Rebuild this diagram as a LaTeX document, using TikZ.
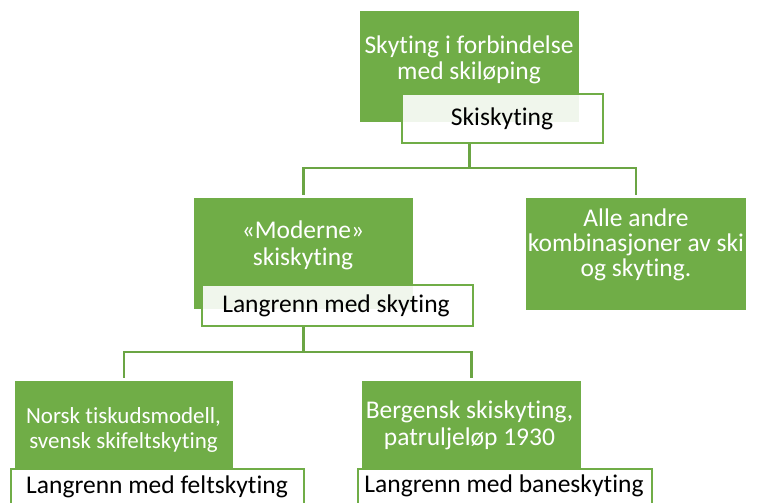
\documentclass[tikz,border=0pt]{standalone}
\usepackage{fontspec}
\setmainfont{Carlito}[Ligatures={NoCommon}]
\definecolor{ogreen}{HTML}{70AD47}
\definecolor{cgreen}{HTML}{6BA544}
\tikzset{
  gbox/.style={fill=ogreen, draw=white, line width=1pt, anchor=north west, inner sep=0pt},
  wbox/.style={fill=white, fill opacity=0.9, draw=ogreen, line width=1.8pt, anchor=north west, inner sep=0pt},
  gtext/.style={text=white, font=\fontsize{25.5}{26.5}\selectfont, align=center, anchor=base, inner sep=0pt},
  wtext/.style={text=black, font=\fontsize{25.5}{26.5}\selectfont, anchor=base, inner sep=0pt},
  conn/.style={draw=cgreen, line width=2.2pt, shorten >=2pt},
}
\begin{document}
\begin{tikzpicture}[x=1pt, y=-1pt]
\useasboundingbox (0,0) rectangle (760,503);
% green boxes
\node[gbox, minimum width=220pt, minimum height=112pt] (g1) at (359,10) {};
\node[gbox, minimum width=220pt, minimum height=112pt] (g2) at (193,197) {};
\node[gbox, minimum width=221pt, minimum height=113pt] (g3) at (525,197) {};
\node[gbox, minimum width=219pt, minimum height=88pt] (g4) at (14,380) {};
\node[gbox, minimum width=220pt, minimum height=88pt] (g5) at (361,380) {};
% connectors
\draw[conn] (g1.south |- 0,142) -- (g1.south |- 0,168) -| (g2.north);
\draw[conn] (g1.south |- 0,168) -| (g3.north);
\draw[conn] (g2.south |- 0,325) -- (g2.south |- 0,352) -| (g4.north);
\draw[conn] (g2.south |- 0,352) -| (g5.north);
% white boxes
\node[wbox, minimum width=201pt, minimum height=49pt] (w1) at (401,93) {};
\node[wbox, minimum width=271pt, minimum height=41pt] (w2) at (201,284) {};
\node[wbox, minimum width=293pt, minimum height=50pt] (w4) at (10,468) {};
\node[wbox, minimum width=294pt, minimum height=50pt] (w5) at (357,468) {};
% texts (base anchor = baseline of the last line)
\node[gtext] (t1) at (469,80) {Skyting i forbindelse\\med skiløping};
\node[wtext] (tw1) at (502,125) {Skiskyting};
\node[gtext] (t2) at (303,265) {«Moderne»\\skiskyting};
\node[wtext] (tw2) at (336,312) {Langrenn med skyting};
\node[gtext, font=\fontsize{25.5}{25}\selectfont] (t3) at (636,276) {Alle andre\\kombinasjoner av ski\\og skyting.};
\node[gtext, font=\fontsize{23}{25}\selectfont] (t4) at (123.5,448) {Norsk tiskudsmodell,\\svensk skifeltskyting};
\node[wtext] (tw4) at (157,493) {Langrenn med feltskyting};
\node[gtext] (t5) at (469.5,445) {Bergensk skiskyting,\\patruljeløp 1930};
\node[wtext] (tw5) at (504,492) {Langrenn med baneskyting};
\end{tikzpicture}
\end{document}
